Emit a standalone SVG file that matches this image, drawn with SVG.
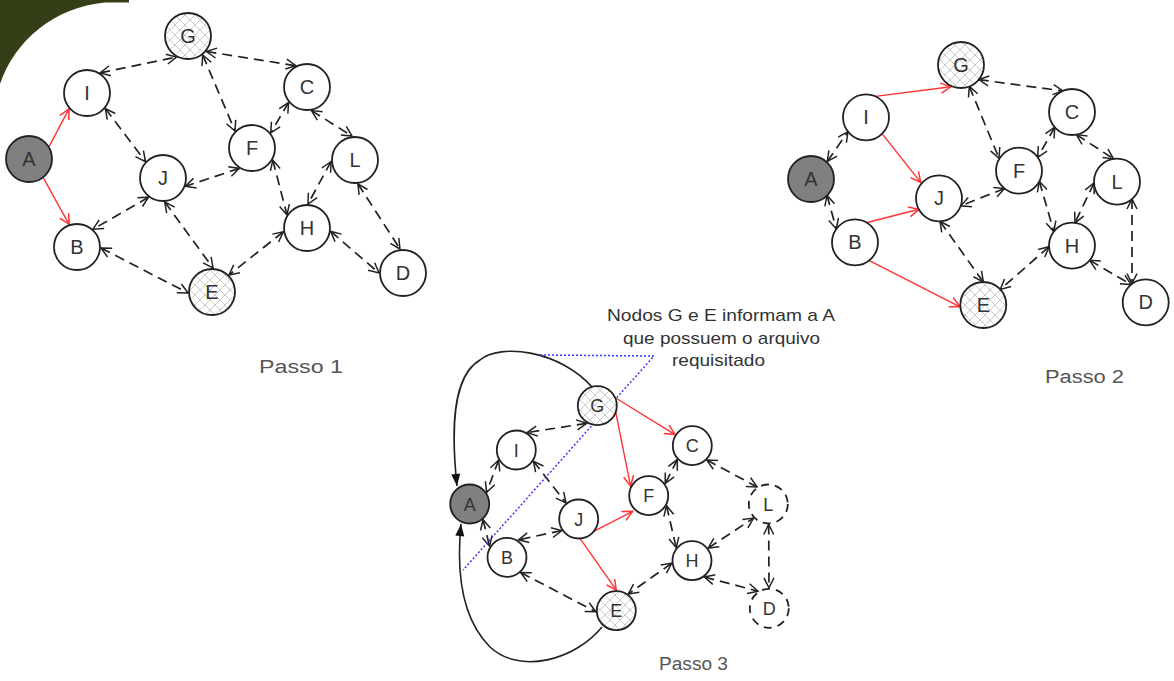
<svg xmlns="http://www.w3.org/2000/svg" width="1174" height="681" viewBox="0 0 1174 681">
<style>
.d{stroke:#222;stroke-width:1.7;stroke-dasharray:10 6;fill:none;marker-start:url(#oa);marker-end:url(#oa)}
.r{stroke:#f33;stroke-width:1.4;fill:none;marker-end:url(#ra)}
.c{stroke:#222;stroke-width:1.6;fill:none;marker-end:url(#fa)}
.n{fill:#fff;stroke:#222;stroke-width:1.8}
.g{fill:#808080;stroke:#222;stroke-width:1.8}
.h{fill:url(#hatch);stroke:#222;stroke-width:1.8}
.dn{fill:#fff;stroke:#222;stroke-width:1.8;stroke-dasharray:8 6}
.t{font-family:"Liberation Sans",Arial,sans-serif;font-size:20px;fill:#333;text-anchor:middle}
.t3{font-family:"Liberation Sans",Arial,sans-serif;font-size:18px;fill:#333;text-anchor:middle}
.lab{font-family:"Liberation Sans",Arial,sans-serif;font-size:18px;fill:#555}
.note{font-family:"Liberation Sans",Arial,sans-serif;font-size:17px;fill:#333}
</style>
<defs>
<pattern id="hatch" width="10" height="10" patternUnits="userSpaceOnUse">
<rect width="10" height="10" fill="#fff"/>
<path d="M0,0 L10,10 M10,0 L0,10" stroke="#b5b5b5" stroke-width="0.7"/>
</pattern>
<marker id="oa" markerUnits="userSpaceOnUse" markerWidth="14" markerHeight="14" refX="12" refY="7" orient="auto-start-reverse" overflow="visible">
<path d="M2,2 L12,7 L2,12" fill="none" stroke="#222" stroke-width="1.5"/>
</marker>
<marker id="ra" markerUnits="userSpaceOnUse" markerWidth="14" markerHeight="14" refX="12" refY="7" orient="auto" overflow="visible">
<path d="M2,2 L12,7 L2,12" fill="none" stroke="#f33" stroke-width="1.5"/>
</marker>
<marker id="fa" markerUnits="userSpaceOnUse" markerWidth="12" markerHeight="10" refX="12" refY="4.5" orient="auto" overflow="visible">
<path d="M0,0 L12,4.5 L0,9 z" fill="#111"/>
</marker>
</defs>
<rect width="1174" height="681" fill="#fff"/>
<path d="M0,0 H129 V2.5 H105 C55,7 15,40 0,84 Z" fill="#343f17"/>

<g id="connectors">
<!-- Passo 1 -->
<line class="d" x1="100.1" y1="72.9" x2="176.6" y2="57.1"/>
<line class="d" x1="206.4" y1="51.5" x2="295.9" y2="65.7"/>
<line class="d" x1="202.7" y1="55" x2="235" y2="131"/>
<line class="d" x1="105.3" y1="108.6" x2="145.5" y2="161.6"/>
<line class="d" x1="288.6" y1="102.5" x2="270.7" y2="132.9"/>
<line class="d" x1="311.5" y1="110.6" x2="352" y2="136"/>
<line class="d" x1="331" y1="161.6" x2="308" y2="204"/>
<line class="d" x1="272.8" y1="160" x2="287" y2="215"/>
<line class="d" x1="239.3" y1="168.4" x2="185.5" y2="186.3"/>
<line class="d" x1="148.6" y1="197.2" x2="93" y2="229.2"/>
<line class="d" x1="164.8" y1="202" x2="213" y2="268"/>
<line class="d" x1="101" y1="248" x2="188" y2="293"/>
<line class="d" x1="283.3" y1="231.8" x2="229" y2="275"/>
<line class="d" x1="330.7" y1="231.4" x2="379" y2="273"/>
<line class="d" x1="357.9" y1="183.8" x2="400" y2="249"/>
<line class="r" x1="49.3" y1="146.2" x2="69" y2="108.9"/>
<line class="r" x1="43.5" y1="178.1" x2="69.1" y2="224.4"/>
<!-- Passo 2 -->
<line class="r" x1="875.5" y1="96.4" x2="950.9" y2="86.8"/>
<line class="r" x1="882.4" y1="134.1" x2="920.7" y2="182.4"/>
<line class="r" x1="867.2" y1="222.5" x2="919" y2="209.3"/>
<line class="r" x1="868.9" y1="260.4" x2="960" y2="306.8"/>
<line class="d" x1="827.3" y1="161.4" x2="848" y2="131.7"/>
<line class="d" x1="827" y1="195.4" x2="836.3" y2="228.9"/>
<line class="d" x1="978.8" y1="79.6" x2="1063" y2="91"/>
<line class="d" x1="969.3" y1="86.4" x2="999" y2="158.2"/>
<line class="d" x1="1054.7" y1="127.3" x2="1037.7" y2="157.3"/>
<line class="d" x1="1076.4" y1="134.6" x2="1113.6" y2="158.9"/>
<line class="d" x1="1004.5" y1="188.5" x2="960.8" y2="205.8"/>
<line class="d" x1="1039.4" y1="181.3" x2="1053.8" y2="231.6"/>
<line class="d" x1="1094" y1="183" x2="1074.9" y2="222.9"/>
<line class="d" x1="940" y1="221.3" x2="983.3" y2="282"/>
<line class="d" x1="1049" y1="246.7" x2="1000.3" y2="289.4"/>
<line class="d" x1="1089.7" y1="260.3" x2="1131.1" y2="284.6"/>
<line class="d" x1="1132" y1="199" x2="1132" y2="283.5"/>
<!-- Passo 3 -->
<line class="r" x1="616.5" y1="398.5" x2="675" y2="434.6"/>
<line class="r" x1="615" y1="408.7" x2="630.6" y2="486.1"/>
<line class="r" x1="593.3" y1="531.7" x2="632.6" y2="511.3"/>
<line class="r" x1="580" y1="538.3" x2="616.3" y2="590.2"/>
<line class="d" x1="586.7" y1="423.3" x2="527.1" y2="432.6"/>
<line class="d" x1="498.6" y1="460.2" x2="486.6" y2="492.4"/>
<line class="d" x1="533.4" y1="461.2" x2="565.9" y2="502.9"/>
<line class="d" x1="483" y1="519.6" x2="489.6" y2="546.2"/>
<line class="d" x1="561.7" y1="530.5" x2="518.5" y2="539.8"/>
<line class="d" x1="520.7" y1="572.5" x2="595.8" y2="611.8"/>
<line class="d" x1="677.3" y1="459.6" x2="665.2" y2="483.6"/>
<line class="d" x1="706.8" y1="460.1" x2="757.1" y2="486.9"/>
<line class="d" x1="666.5" y1="505.7" x2="676.2" y2="547.7"/>
<line class="d" x1="708.2" y1="548.1" x2="753.5" y2="518.1"/>
<line class="d" x1="768.7" y1="524.5" x2="769" y2="587.8"/>
<line class="d" x1="671.7" y1="563.3" x2="628.3" y2="594"/>
<line class="d" x1="704.4" y1="577" x2="758" y2="591.2"/>
<path class="c" d="M593,388 C560,350 500,343 480,360 C452,376 451,430 457,486"/>
<path class="c" d="M602,627 C575,660 520,675 490,647 C462,619 456,575 461,524"/>
<polyline points="540,355 654,356 463,570" fill="none" stroke="#3838ff" stroke-width="1.5" stroke-dasharray="2 2"/>
</g>

<!-- Passo 1 nodes -->
<g id="p1-A"><circle class="g" cx="29" cy="159" r="23"/><text class="t" x="29" y="166">A</text></g>
<g id="p1-I"><circle class="n" cx="87" cy="93" r="23"/><text class="t" x="87" y="100">I</text></g>
<g id="p1-G"><circle class="h" cx="188" cy="36" r="23"/><text class="t" x="188" y="43">G</text></g>
<g id="p1-C"><circle class="n" cx="307" cy="87" r="23"/><text class="t" x="307" y="94">C</text></g>
<g id="p1-F"><circle class="n" cx="252" cy="148" r="23"/><text class="t" x="252" y="155">F</text></g>
<g id="p1-L"><circle class="n" cx="355" cy="160" r="23"/><text class="t" x="355" y="167">L</text></g>
<g id="p1-J"><circle class="n" cx="163" cy="178" r="23"/><text class="t" x="163" y="185">J</text></g>
<g id="p1-H"><circle class="n" cx="307" cy="228" r="23"/><text class="t" x="307" y="235">H</text></g>
<g id="p1-B"><circle class="n" cx="77" cy="247" r="23"/><text class="t" x="77" y="254">B</text></g>
<g id="p1-E"><circle class="h" cx="212" cy="292" r="23"/><text class="t" x="212" y="299">E</text></g>
<g id="p1-D"><circle class="n" cx="403" cy="273" r="23"/><text class="t" x="403" y="280">D</text></g>

<!-- Passo 2 nodes -->
<g id="p2-A"><circle class="g" cx="811" cy="179" r="23"/><text class="t" x="811" y="186">A</text></g>
<g id="p2-I"><circle class="n" cx="866" cy="117.3" r="23"/><text class="t" x="866" y="124.3">I</text></g>
<g id="p2-G"><circle class="h" cx="961" cy="65" r="23"/><text class="t" x="961" y="72">G</text></g>
<g id="p2-C"><circle class="n" cx="1072" cy="112" r="23"/><text class="t" x="1072" y="119">C</text></g>
<g id="p2-F"><circle class="n" cx="1019" cy="170.7" r="23"/><text class="t" x="1019" y="177.7">F</text></g>
<g id="p2-L"><circle class="n" cx="1117" cy="181.7" r="23"/><text class="t" x="1117" y="188.7">L</text></g>
<g id="p2-J"><circle class="n" cx="939" cy="198.3" r="23"/><text class="t" x="939" y="205.3">J</text></g>
<g id="p2-B"><circle class="n" cx="855" cy="242.3" r="23"/><text class="t" x="855" y="249.3">B</text></g>
<g id="p2-H"><circle class="n" cx="1072" cy="245.7" r="23"/><text class="t" x="1072" y="252.7">H</text></g>
<g id="p2-E"><circle class="h" cx="983.3" cy="305" r="23"/><text class="t" x="983.3" y="312">E</text></g>
<g id="p2-D"><circle class="n" cx="1145.7" cy="302.3" r="23"/><text class="t" x="1145.7" y="309.3">D</text></g>

<!-- Passo 3 nodes -->
<g id="p3-A"><circle class="g" cx="469.7" cy="504" r="19.5"/><text class="t3" x="469.7" y="510.5">A</text></g>
<g id="p3-I"><circle class="n" cx="516.3" cy="450" r="19.5"/><text class="t3" x="516.3" y="456.5">I</text></g>
<g id="p3-G"><circle class="h" cx="597.3" cy="405.7" r="19.5"/><text class="t3" x="597.3" y="412.2">G</text></g>
<g id="p3-C"><circle class="n" cx="692.3" cy="445.7" r="19.5"/><text class="t3" x="692.3" y="452.2">C</text></g>
<g id="p3-F"><circle class="n" cx="648.7" cy="495.7" r="19.5"/><text class="t3" x="648.7" y="502.2">F</text></g>
<g id="p3-L"><circle class="dn" cx="768.3" cy="504" r="19.5"/><text class="t3" x="768.3" y="510.5">L</text></g>
<g id="p3-J"><circle class="n" cx="578.7" cy="519" r="19.5"/><text class="t3" x="578.7" y="525.5">J</text></g>
<g id="p3-B"><circle class="n" cx="507" cy="557.3" r="19.5"/><text class="t3" x="507" y="563.8">B</text></g>
<g id="p3-H"><circle class="n" cx="692" cy="560.7" r="19.5"/><text class="t3" x="692" y="567.2">H</text></g>
<g id="p3-E"><circle class="h" cx="616.3" cy="610.7" r="19.5"/><text class="t3" x="616.3" y="617.2">E</text></g>
<g id="p3-D"><circle class="dn" cx="769.3" cy="608.3" r="19.5"/><text class="t3" x="769.3" y="614.8">D</text></g>

<g id="labels">
<text class="lab" x="259" y="373" textLength="84" lengthAdjust="spacingAndGlyphs">Passo 1</text>
<text class="lab" x="1045" y="383" textLength="79" lengthAdjust="spacingAndGlyphs">Passo 2</text>
<text class="lab" x="659" y="670" textLength="69" lengthAdjust="spacingAndGlyphs">Passo 3</text>
<text class="note" x="607" y="321" textLength="228" lengthAdjust="spacingAndGlyphs">Nodos G e E informam a A</text>
<text class="note" x="623" y="344" textLength="197" lengthAdjust="spacingAndGlyphs">que possuem o arquivo</text>
<text class="note" x="672" y="366" textLength="93" lengthAdjust="spacingAndGlyphs">requisitado</text>
</g>
</svg>
